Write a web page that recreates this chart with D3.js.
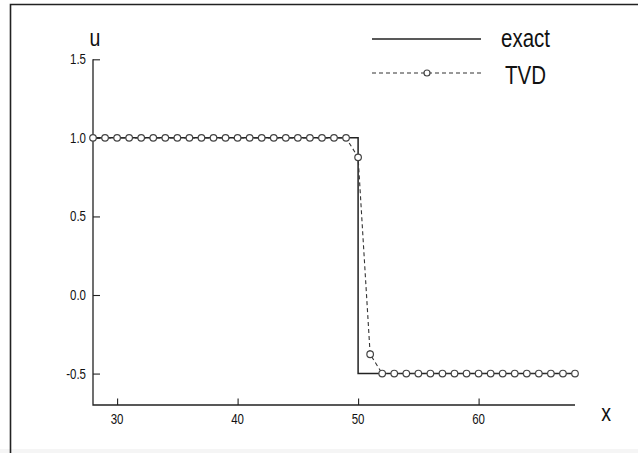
<!DOCTYPE html>
<html>
<head>
<meta charset="utf-8">
<script src="https://cdn.jsdelivr.net/npm/d3@7"></script>
<style>
  html, body { margin: 0; padding: 0; background: #fff; }
  svg { display: block; }
  text { font-family: "Liberation Sans", Arial, sans-serif; fill: #111; }
</style>
</head>
<body>
<svg id="chart" width="638" height="453"></svg>
<script>
// Grid positions x and computed TVD values u
const tvdX = d3.range(28, 69);
const tvdU = [
  1, 1, 1, 1, 1, 1, 1, 1, 1, 1, 1, 1, 1, 1, 1, 1, 1, 1, 1, 1, 1, 1,   // x = 28..49
  0.876, -0.377,                                                       // x = 50, 51
  -0.5, -0.5, -0.5, -0.5, -0.5, -0.5, -0.5, -0.5, -0.5, -0.5,          // x = 52..61
  -0.5, -0.5, -0.5, -0.5, -0.5, -0.5, -0.5                             // x = 62..68
];
// Exact solution: step from u=1 to u=-0.5 at x=50
const exactX = [28, 50, 50, 68];
const exactU = [1, 1, -0.5, -0.5];

const xMajorTicks = [30, 40, 50, 60];
const xMinorTicks = d3.range(28, 69, 2);
const yMajorTicks = [-0.5, 0.0, 0.5, 1.0, 1.5];
const yTickLabels = ["-0.5", "0.0", "0.5", "1.0", "1.5"];
const yMinorTicks = d3.range(-7, 16).map(v => v / 10);
const seriesNames = ["exact", "TVD"];

const svg = d3.select("#chart");
const x = d3.scaleLinear().domain([28, 68]).range([93, 575]);
const y = d3.scaleLinear().domain([-0.7, 1.5]).range([405, 59.3]);

// outer frame
svg.append("rect").attr("x", 0).attr("y", 449).attr("width", 638).attr("height", 4).attr("fill", "#f5f5f5");
svg.append("path").attr("d", "M10.5,453 V4.5 H638")
  .attr("fill", "none").attr("stroke", "#222").attr("stroke-width", 1.6);

// text stretched vertically like the rest of the figure
function label(sel, tx, ty, str, size, anchor) {
  return sel.append("text")
    .attr("transform", `translate(${tx},${ty}) scale(1,1.25)`)
    .attr("text-anchor", anchor || "start")
    .attr("font-size", size)
    .text(str);
}

// axes
const axes = svg.append("g").attr("stroke", "#222").attr("fill", "none");
axes.append("path").attr("d", `M${x(28)},${y(1.5)} V${y(-0.7)} H${x(68)}`).attr("stroke-width", 1.3);

const gx = svg.append("g").attr("transform", `translate(0,${y(-0.7)})`);
gx.call(d3.axisTop(x).tickValues(xMinorTicks).tickSize(4).tickFormat(""))
  .call(g => g.select(".domain").remove());
gx.call(d3.axisTop(x).tickValues(xMajorTicks).tickSize(6.5).tickFormat(""))
  .call(g => g.selectAll(".domain").remove());
gx.selectAll("line").attr("stroke", "#222").attr("stroke-width", 1.1);

const gy = svg.append("g").attr("transform", `translate(${x(28)},0)`);
gy.call(d3.axisRight(y).tickValues(yMinorTicks).tickSize(4).tickFormat(""))
  .call(g => g.select(".domain").remove());
gy.call(d3.axisRight(y).tickValues(yMajorTicks).tickSize(7).tickFormat(""))
  .call(g => g.selectAll(".domain").remove());
gy.selectAll("line").attr("stroke", "#222").attr("stroke-width", 1.1);

// tick labels
xMajorTicks.forEach(v => label(svg, x(v), 424, String(v), 11.5, "middle"));
yMajorTicks.forEach((v, i) => label(svg, 86, y(v) + 5, yTickLabels[i], 11.5, "end"));

// axis titles
label(svg, 95, 46, "u", 19.5, "middle");
label(svg, 606, 421, "x", 19.5, "middle");

// exact solution
const line = d3.line().x(d => x(d[0])).y(d => y(d[1]));
svg.append("path")
  .attr("d", line(exactX.map((v, i) => [v, exactU[i]])))
  .attr("fill", "none").attr("stroke", "#222").attr("stroke-width", 1.5);

// TVD solution
const tvd = tvdX.map((v, i) => [v, tvdU[i]]);
svg.append("path")
  .attr("d", line(tvd))
  .attr("fill", "none").attr("stroke", "#333").attr("stroke-width", 1.1)
  .attr("stroke-dasharray", "4,3");
svg.append("g").selectAll("circle").data(tvd).join("circle")
  .attr("cx", d => x(d[0])).attr("cy", d => y(d[1])).attr("r", 3.3)
  .attr("fill", "#fff").attr("stroke", "#444").attr("stroke-width", 1.2);

// legend
const legend = svg.append("g");
legend.append("line").attr("x1", 372).attr("x2", 481).attr("y1", 39).attr("y2", 39)
  .attr("stroke", "#222").attr("stroke-width", 1.5);
legend.append("line").attr("x1", 372).attr("x2", 481).attr("y1", 73).attr("y2", 73)
  .attr("stroke", "#333").attr("stroke-width", 1.1).attr("stroke-dasharray", "4,3");
legend.append("circle").attr("cx", 427).attr("cy", 73).attr("r", 3)
  .attr("fill", "#fff").attr("stroke", "#444").attr("stroke-width", 1.2);
label(legend, 501, 47, seriesNames[0], 20.5);
label(legend, 505, 83.5, seriesNames[1], 20.5);
</script>
</body>
</html>
